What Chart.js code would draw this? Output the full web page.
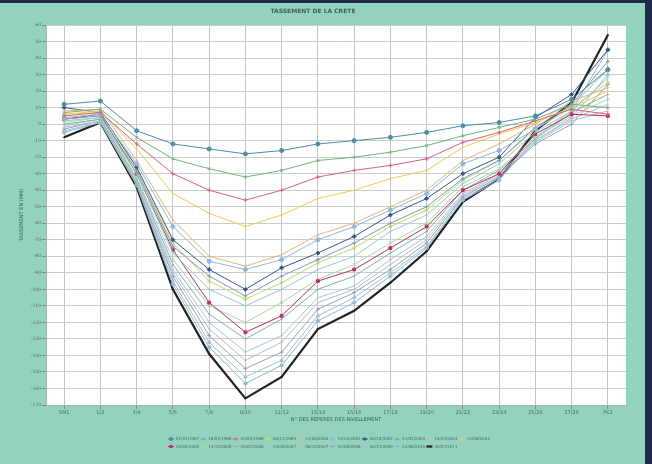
<!DOCTYPE html>
<html>
<head>
<meta charset="utf-8">
<script src="https://cdn.jsdelivr.net/npm/chart.js@4.4.1/dist/chart.umd.min.js"></script>
<style>
  html, body { margin: 0; padding: 0; width: 652px; height: 464px; overflow: hidden; background: #1f2a48; }
  #panel { position: absolute; left: 0; top: 3px; width: 645px; height: 461px; background: #93d3be; }
  #wrap { position: absolute; left: 0; top: 0; width: 652px; height: 464px; }
</style>
</head>
<body>
<div id="panel"></div>
<div id="wrap"><canvas id="chart"></canvas></div>
<script>
// ----- data (mm) -----
const reperes = ['SM1', '1/2', '3/4', '5/6', '7/8', '9/10', '11/12', '13/14', '15/16',
  '17/18', '19/20', '21/22', '23/24', '25/26', '27/28', 'PK2'];

const dates = ['01/01/1987', '18/03/1988', '20/09/1988', '06/11/1989', '11/06/2000',
  '23/04/2001', '06/10/2002', '01/07/2003', '18/03/2004', '14/08/2004',
  '20/09/2005', '13/12/2005', '05/07/2006', '24/09/2007', '06/12/2007',
  '20/08/2008', '06/11/2009', '22/06/2010', '30/07/2011'];

const s1  = [12, 14, -4, -12, -15, -18, -16, -12, -10, -8, -5, -1, 1, 5, 15, 33];
const s2  = [7, 9, -8, -21, -27, -32, -28, -22, -20, -17, -13, -7, -2, 3, 12, 10];
const s3  = [5, 7, -12, -30, -40, -46, -40, -32, -28, -25, -21, -11, -5, 2, 9, 6];
const s4  = [6, 8, -15, -42, -54, -62, -55, -45, -40, -33, -28, -14, -6, 1, 10, 20];
const s5  = [8, 9, -22, -58, -80, -86, -79, -67, -60, -50, -40, -22, -12, 0, 14, 22];
const s6  = [4, 6, -24, -62, -83, -88, -82, -70, -62, -52, -42, -24, -16, -3, 11, 33];
const s7  = [10, 7, -26, -70, -88, -100, -87, -78, -68, -55, -45, -30, -20, 4, 18, 45];
const s8  = [3, 5, -28, -74, -92, -104, -92, -82, -72, -60, -50, -33, -22, -2, 12, 38];
const s9  = [2, 4, -30, -78, -100, -110, -100, -88, -80, -65, -55, -36, -24, -5, 8, 28];
const s10 = [6, 7, -27, -72, -95, -106, -96, -84, -75, -62, -52, -34, -22, -3, 10, 25];
const s11 = [3, 6, -30, -76, -108, -126, -116, -95, -88, -75, -62, -40, -30, -6, 6, 5];
const s12 = [1, 4, -32, -82, -110, -120, -108, -94, -85, -72, -60, -38, -27, -8, 5, 15];
const s13 = [0, 3, -33, -85, -115, -130, -118, -100, -92, -78, -65, -40, -28, -9, 7, 18];
const s14 = [-1, 3, -34, -88, -120, -138, -128, -105, -98, -82, -68, -42, -30, -10, 3, 12];
const s15 = [-2, 2, -35, -90, -124, -143, -132, -108, -100, -85, -70, -43, -31, -11, 2, 8];
const s16 = [-3, 2, -36, -92, -128, -148, -138, -112, -102, -88, -72, -44, -32, -12, 0, 24];
const s17 = [-4, 1, -36, -95, -132, -153, -143, -116, -105, -90, -74, -45, -33, -10, 4, 30];
const s18 = [-5, 1, -37, -97, -135, -157, -146, -119, -108, -92, -75, -46, -34, -8, 8, 45];
const s19 = [-8, 1, -38, -100, -139, -166, -153, -124, -113, -96, -77, -47, -33, -4, 13, 54];

const series = [s1, s2, s3, s4, s5, s6, s7, s8, s9, s10, s11, s12, s13, s14, s15, s16, s17, s18, s19];

const colors = ['#4a8fa8', '#6fb57a', '#e0607a', '#efcf4c', '#eab47a', '#8cb8e2', '#34568f',
  '#7b9fb2', '#8fcfd2', '#c6d86c', '#c2305a', '#a9dca0', '#7fb3ad', '#a8c6e4', '#b8bec6',
  '#95a6b5', '#a3bfd8', '#86bde0', '#222222'];
const markers = ['circle', 'crossRot', 'cross', 'line', 'line', 'circle', 'rectRot', 'cross',
  'line', 'star', 'rect', 'crossRot', 'line', 'line', 'line', 'cross', 'triangle', 'rectRot', 'line'];

const datasets = series.map((d, i) => ({
  label: dates[i],
  data: d,
  borderColor: colors[i],
  backgroundColor: colors[i],
  borderWidth: i === series.length - 1 ? 2.2 : 1,
  pointStyle: markers[i],
  pointRadius: markers[i] === 'line' ? 1.2 : 2,
  pointBorderWidth: 1,
  tension: 0
}));

// white plotting area
const plotBg = {
  id: 'plotBg',
  beforeDraw(chart) {
    const { ctx, chartArea: a } = chart;
    ctx.save();
    ctx.fillStyle = '#ffffff';
    ctx.fillRect(a.left, a.top, a.right - a.left, a.bottom - a.top);
    ctx.restore();
  }
};

// small two-row legend under the axis
const gridLegend = {
  id: 'gridLegend',
  afterDraw(chart) {
    const ctx = chart.ctx;
    chart.data.datasets.forEach((ds, i) => {
      const x = 171 + (i % 10) * 32.3;
      const y = 439 + Math.floor(i / 10) * 7.5;
      ctx.save();
      ctx.strokeStyle = ds.borderColor;
      ctx.fillStyle = ds.borderColor;
      ctx.lineWidth = ds.borderWidth;
      ctx.beginPath();
      ctx.moveTo(x - 3, y);
      ctx.lineTo(x + 3, y);
      ctx.stroke();
      ctx.lineWidth = 1;
      Chart.helpers.drawPoint(ctx, { pointStyle: ds.pointStyle, radius: 1.6, borderWidth: 1 }, x, y);
      ctx.fillStyle = '#4f6a66';
      ctx.font = '4px "DejaVu Sans"';
      ctx.textBaseline = 'middle';
      ctx.fillText(ds.label, x + 5, y);
      ctx.restore();
    });
  }
};

new Chart(document.getElementById('chart'), {
  type: 'line',
  data: { labels: reperes, datasets },
  plugins: [plotBg, gridLegend],
  options: {
    responsive: true,
    maintainAspectRatio: false,
    animation: false,
    layout: { padding: { left: 0, right: 26, top: 0, bottom: 37 } },
    plugins: {
      legend: { display: false },
      tooltip: { enabled: false },
      title: {
        display: true,
        text: 'TASSEMENT DE LA CRETE',
        color: '#3f5f5a',
        font: { family: 'DejaVu Sans', size: 6 },
        padding: { top: 8, bottom: 9.8 }
      }
    },
    scales: {
      x: {
        offset: true,
        grid: { color: '#c4c4c4', offset: false, tickLength: 4, tickColor: '#6f8f88' },
        border: { color: '#b0b0b0' },
        ticks: { color: '#4f6a66', font: { family: 'DejaVu Sans', size: 5 }, padding: 1, maxRotation: 0, autoSkip: false },
        title: {
          display: true,
          text: 'N° DES REPERES DES NIVELLEMENT',
          color: '#3f5f5a',
          font: { family: 'DejaVu Sans', size: 5 },
          padding: { top: 1, bottom: 4 }
        },
        afterFit(scale) { scale.height = 22; }
      },
      y: {
        min: -170,
        max: 60,
        grid: { color: '#cccccc', tickLength: 4, tickColor: '#6f8f88' },
        border: { color: '#b0b0b0' },
        ticks: { stepSize: 10, color: '#4f6a66', font: { family: 'DejaVu Sans', size: 4.5 }, padding: 1 },
        title: {
          display: true,
          text: 'TASSEMENT EN (MM)',
          color: '#3f5f5a',
          font: { family: 'DejaVu Sans', size: 5 },
          padding: { top: 19, bottom: 0 }
        },
        afterFit(scale) { scale.width = 46; }
      }
    }
  }
});
</script>
</body>
</html>
